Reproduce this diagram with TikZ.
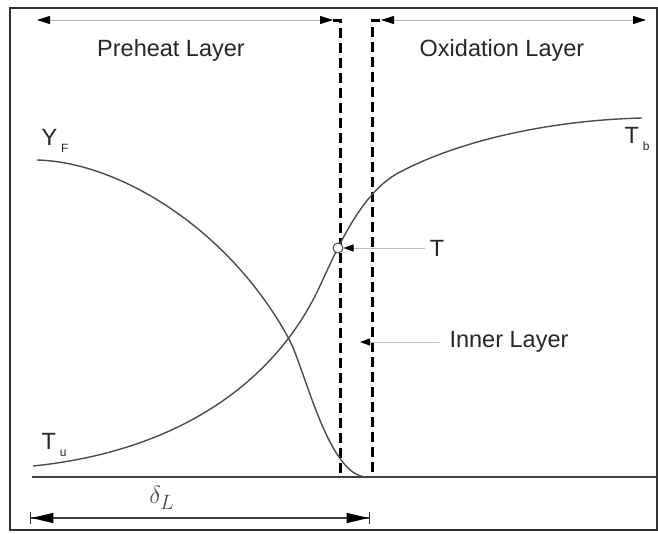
\documentclass[tikz,border=0pt]{standalone}
\usepackage{fontspec}
\setmainfont{Liberation Sans}
\usetikzlibrary{arrows.meta}
\newcommand{\sbs}[1]{\,\raisebox{-0.3em}{\fontsize{12}{13}\selectfont #1}}
\begin{document}
\begin{tikzpicture}[x=1pt,y=-1pt,
  lbl/.style={font=\fontsize{23.5}{26}\selectfont, text=black!85, inner sep=0pt},
  curve/.style={draw=black!70, line width=1.4pt},
  dline/.style={draw=black, line width=3pt, dash pattern=on 10pt off 5pt},
  span/.style={draw=black!30, line width=1pt, {Triangle[length=13pt,width=8pt,black]}-{Triangle[length=13pt,width=8pt,black]}},
  pointer/.style={draw=black!25, line width=1pt, -{Triangle[length=10pt,width=7pt,black]}},
  dimline/.style={draw=black!75, line width=1.4pt, {Bar[width=12pt,black!80]Triangle[length=22pt,width=10pt,black]}-{Triangle[length=22pt,width=10pt,black]Bar[width=12pt,black!80]}}
]
\useasboundingbox (0,0) rectangle (658,533);
% frame
\draw[line width=1.6pt, black!80] (10,8) rectangle (657,530);

% layer boundaries
\coordinate (d1s) at (333,20);
\coordinate (d1t) at (340,20);
\coordinate (d1b) at (340,477);
\coordinate (d2s) at (380,20);
\coordinate (d2t) at (372,20);
\coordinate (d2b) at (372,477);
\draw[dline] (d1s) -- (d1t) -- (d1b);
\draw[dline] (d2s) -- (d2t) -- (d2b);

% top spans
\coordinate (pl) at (37,20);
\coordinate (pr) at (333,20);
\coordinate (ol) at (381,20);
\coordinate (or) at (646,20);
\draw[span] (pl) -- (pr);
\draw[span] (ol) -- (or);
\node[lbl] (preheat) at (171,50) {Preheat Layer};
\node[lbl] (oxid) at (502,50) {Oxidation Layer};

% baseline
\coordinate (bl) at (32,477);
\coordinate (br) at (657,477);
\draw[line width=1.4pt, black!75] (bl) -- (br);

% fuel mass fraction
\coordinate (y0) at (37,160);
\coordinate (y1) at (289,339);
\coordinate (y2) at (366,477);
\draw[curve] (y0) .. controls (120,162) and (230,230) .. (y1)
                  .. controls (305,369) and (328,475) .. (y2);
% temperature
\coordinate (t0) at (33,466);
\coordinate (t1) at (313,300);
\coordinate (t2) at (400,172);
\coordinate (t3) at (642,118);
\draw[curve] (t0) .. controls (170,452) and (265,390) .. (t1)
                  .. controls (330,268) and (355,195) .. (t2)
                  .. controls (467,137) and (560,120) .. (t3);

% labels of curves
\node[lbl] (yf) at (55,141) {Y\sbs{F}};
\node[lbl] (tu) at (54,445) {T\sbs{u}};
\node[lbl] (tb) at (637,139) {T\sbs{b}};

% T marker
\node[circle, draw=black!70, fill=white, minimum size=10pt, inner sep=0pt, line width=1pt] (tc) at (338,248) {};
\node[lbl] (tl) at (437,248) {T};
\draw[pointer] ([xshift=-5pt]tl.west) -- (tc.east);

% inner layer
\node[lbl] (il) at (509,342) {Inner Layer};
\coordinate (ilt) at (360,342);
\draw[pointer] ([xshift=-10pt]il.west) -- (ilt);

% flame thickness
\coordinate (dl) at (30,518);
\coordinate (dr) at (370,518);
\draw[dimline] (dl) -- (dr);
\node[inner sep=0pt, font=\fontsize{30}{34}\selectfont, text=black!70] (delta) at (162,498) {$\delta_L$};
\end{tikzpicture}
\end{document}
